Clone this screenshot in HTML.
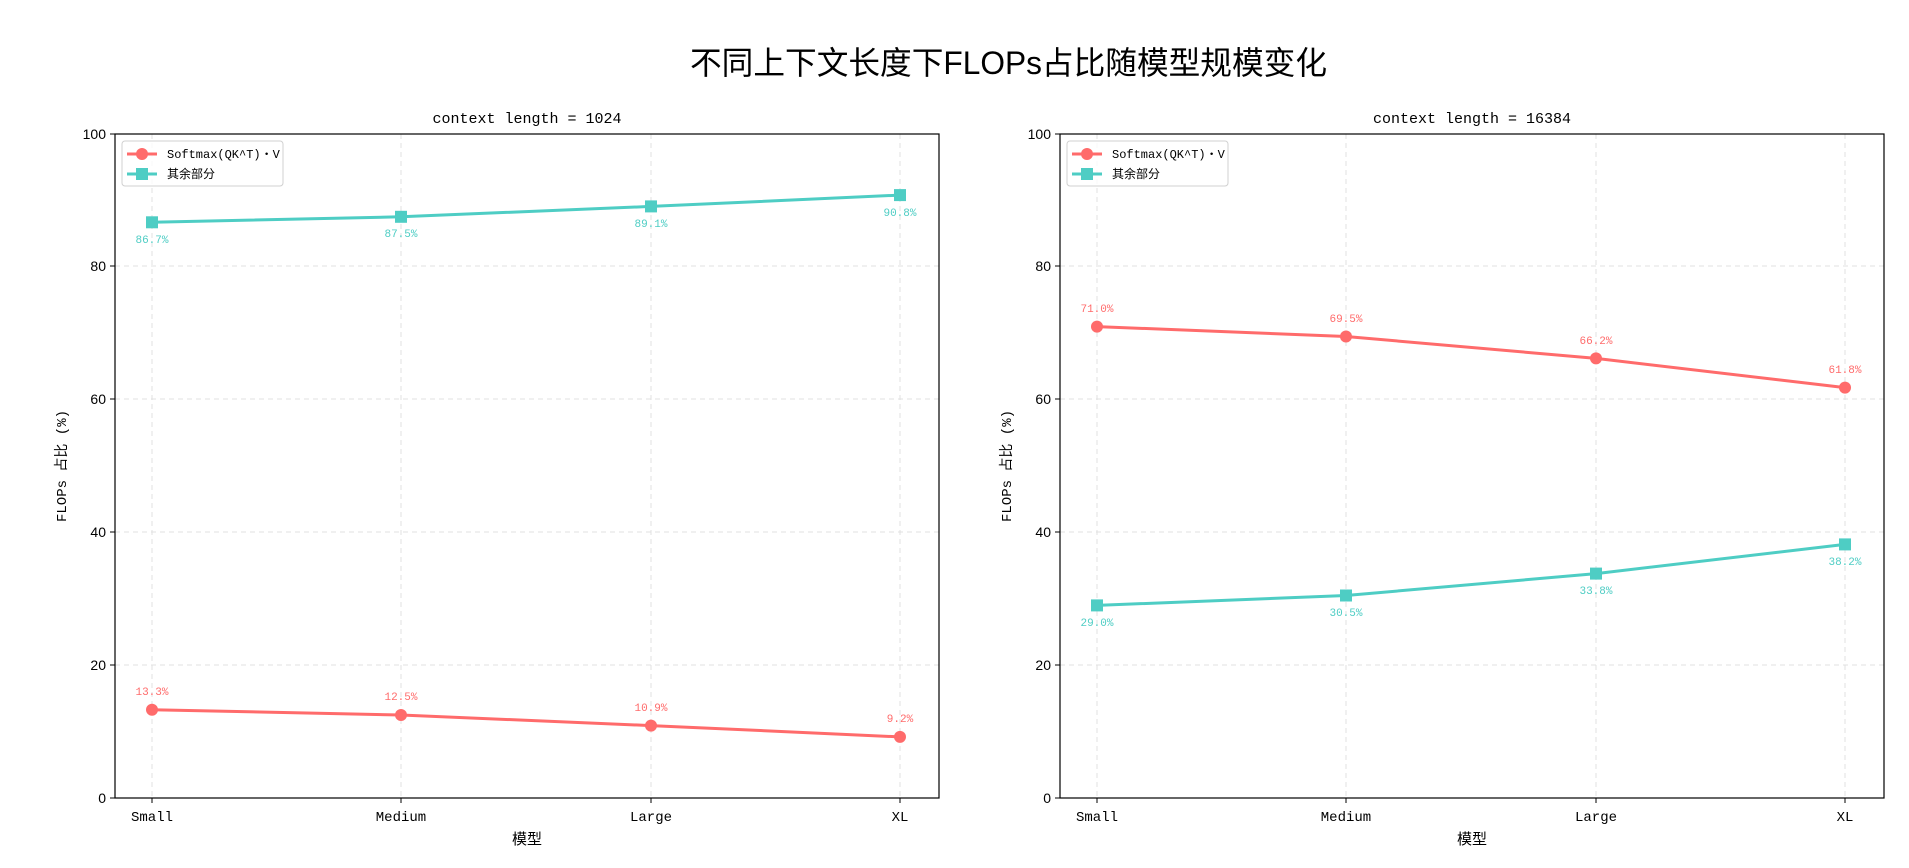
<!DOCTYPE html>
<html><head><meta charset="utf-8"><style>
html,body{margin:0;padding:0;background:#fff;}
svg{display:block;}
text{font-family:"Liberation Sans","Noto Sans CJK SC",sans-serif;}
.m{font-family:"Liberation Mono","Noto Sans CJK SC",monospace;}
</style></head><body>
<svg width="1909" height="868" viewBox="0 0 1909 868" xmlns="http://www.w3.org/2000/svg">
<text x="690" y="74" font-size="32" textLength="637" lengthAdjust="spacingAndGlyphs" fill="#000">不同上下文长度下FLOPs占比随模型规模变化</text>

<!-- LEFT AXES -->
<g>
<g stroke="#e0e0e0" stroke-dasharray="5,4" stroke-width="1">
<line x1="152" y1="134" x2="152" y2="798"/><line x1="401" y1="134" x2="401" y2="798"/>
<line x1="651" y1="134" x2="651" y2="798"/><line x1="900" y1="134" x2="900" y2="798"/>
<line x1="115" y1="665" x2="939" y2="665"/><line x1="115" y1="532" x2="939" y2="532"/>
<line x1="115" y1="399" x2="939" y2="399"/><line x1="115" y1="266" x2="939" y2="266"/>
</g>
<rect x="115" y="134" width="824" height="664" fill="none" stroke="#000" stroke-width="1.2"/>
<g stroke="#000"><line x1="110" y1="798" x2="115" y2="798"/><line x1="110" y1="665" x2="115" y2="665"/><line x1="110" y1="532" x2="115" y2="532"/><line x1="110" y1="399" x2="115" y2="399"/><line x1="110" y1="266" x2="115" y2="266"/><line x1="110" y1="134" x2="115" y2="134"/>
<line x1="152" y1="798" x2="152" y2="803"/><line x1="401" y1="798" x2="401" y2="803"/><line x1="651" y1="798" x2="651" y2="803"/><line x1="900" y1="798" x2="900" y2="803"/></g>
<g font-size="14" text-anchor="end" fill="#000"><text x="106" y="803">0</text><text x="106" y="670">20</text><text x="106" y="537">40</text><text x="106" y="404">60</text><text x="106" y="271">80</text><text x="106" y="139">100</text></g>
<g font-size="14" text-anchor="middle" fill="#000"><text class="m" x="152" y="821">Small</text><text class="m" x="401" y="821">Medium</text><text class="m" x="651" y="821">Large</text><text class="m" x="900" y="821">XL</text></g>
<text x="527" y="844" font-size="15" text-anchor="middle">模型</text>
<text class="m" x="0" y="0" font-size="14" text-anchor="middle" transform="translate(66,466) rotate(-90)">FLOPs 占比 (%)</text>
<text class="m" x="527" y="123" font-size="15" text-anchor="middle">context length = 1024</text>
<polyline points="152,222.3 401,216.8 651,206.4 900,195.1" fill="none" stroke="#4ecdc4" stroke-width="3"/>
<g fill="#4ecdc4"><rect x="146" y="216.3" width="12" height="12"/><rect x="395" y="210.8" width="12" height="12"/><rect x="645" y="200.4" width="12" height="12"/><rect x="894" y="189.1" width="12" height="12"/></g>
<polyline points="152,709.7 401,715 651,725.6 900,736.9" fill="none" stroke="#ff6b6b" stroke-width="3"/>
<g fill="#ff6b6b"><circle cx="152" cy="709.7" r="6"/><circle cx="401" cy="715" r="6"/><circle cx="651" cy="725.6" r="6"/><circle cx="900" cy="736.9" r="6"/></g>
<g font-size="11" text-anchor="middle" fill="#4ecdc4"><text class="m" x="152" y="243">86.7%</text><text class="m" x="401" y="237">87.5%</text><text class="m" x="651" y="227">89.1%</text><text class="m" x="900" y="216">90.8%</text></g>
<g font-size="11" text-anchor="middle" fill="#ff6b6b"><text class="m" x="152" y="695">13.3%</text><text class="m" x="401" y="700">12.5%</text><text class="m" x="651" y="711">10.9%</text><text class="m" x="900" y="722">9.2%</text></g>
<rect x="122" y="141" width="161" height="45" rx="3" fill="#fff" fill-opacity="0.8" stroke="#d0d0d0"/>
<line x1="127" y1="154" x2="157" y2="154" stroke="#ff6b6b" stroke-width="3"/><circle cx="142" cy="154" r="6" fill="#ff6b6b"/>
<line x1="127" y1="174" x2="157" y2="174" stroke="#4ecdc4" stroke-width="3"/><rect x="136" y="168" width="12" height="12" fill="#4ecdc4"/>
<text class="m" x="167" y="158" font-size="12">Softmax(QK^T)・V</text>
<text class="m" x="167" y="178" font-size="12">其余部分</text>
</g>

<!-- RIGHT AXES -->
<g transform="translate(945,0)">
<g stroke="#e0e0e0" stroke-dasharray="5,4" stroke-width="1">
<line x1="152" y1="134" x2="152" y2="798"/><line x1="401" y1="134" x2="401" y2="798"/>
<line x1="651" y1="134" x2="651" y2="798"/><line x1="900" y1="134" x2="900" y2="798"/>
<line x1="115" y1="665" x2="939" y2="665"/><line x1="115" y1="532" x2="939" y2="532"/>
<line x1="115" y1="399" x2="939" y2="399"/><line x1="115" y1="266" x2="939" y2="266"/>
</g>
<rect x="115" y="134" width="824" height="664" fill="none" stroke="#000" stroke-width="1.2"/>
<g stroke="#000"><line x1="110" y1="798" x2="115" y2="798"/><line x1="110" y1="665" x2="115" y2="665"/><line x1="110" y1="532" x2="115" y2="532"/><line x1="110" y1="399" x2="115" y2="399"/><line x1="110" y1="266" x2="115" y2="266"/><line x1="110" y1="134" x2="115" y2="134"/>
<line x1="152" y1="798" x2="152" y2="803"/><line x1="401" y1="798" x2="401" y2="803"/><line x1="651" y1="798" x2="651" y2="803"/><line x1="900" y1="798" x2="900" y2="803"/></g>
<g font-size="14" text-anchor="end" fill="#000"><text x="106" y="803">0</text><text x="106" y="670">20</text><text x="106" y="537">40</text><text x="106" y="404">60</text><text x="106" y="271">80</text><text x="106" y="139">100</text></g>
<g font-size="14" text-anchor="middle" fill="#000"><text class="m" x="152" y="821">Small</text><text class="m" x="401" y="821">Medium</text><text class="m" x="651" y="821">Large</text><text class="m" x="900" y="821">XL</text></g>
<text x="527" y="844" font-size="15" text-anchor="middle">模型</text>
<text class="m" x="0" y="0" font-size="14" text-anchor="middle" transform="translate(66,466) rotate(-90)">FLOPs 占比 (%)</text>
<text class="m" x="527" y="123" font-size="15" text-anchor="middle">context length = 16384</text>
<polyline points="152,326.6 401,336.5 651,358.4 900,387.6" fill="none" stroke="#ff6b6b" stroke-width="3"/>
<g fill="#ff6b6b"><circle cx="152" cy="326.6" r="6"/><circle cx="401" cy="336.5" r="6"/><circle cx="651" cy="358.4" r="6"/><circle cx="900" cy="387.6" r="6"/></g>
<polyline points="152,605.4 401,595.5 651,573.6 900,544.4" fill="none" stroke="#4ecdc4" stroke-width="3"/>
<g fill="#4ecdc4"><rect x="146" y="599.4" width="12" height="12"/><rect x="395" y="589.5" width="12" height="12"/><rect x="645" y="567.6" width="12" height="12"/><rect x="894" y="538.4" width="12" height="12"/></g>
<g font-size="11" text-anchor="middle" fill="#ff6b6b"><text class="m" x="152" y="312">71.0%</text><text class="m" x="401" y="322">69.5%</text><text class="m" x="651" y="344">66.2%</text><text class="m" x="900" y="373">61.8%</text></g>
<g font-size="11" text-anchor="middle" fill="#4ecdc4"><text class="m" x="152" y="626">29.0%</text><text class="m" x="401" y="616">30.5%</text><text class="m" x="651" y="594">33.8%</text><text class="m" x="900" y="565">38.2%</text></g>
<rect x="122" y="141" width="161" height="45" rx="3" fill="#fff" fill-opacity="0.8" stroke="#d0d0d0"/>
<line x1="127" y1="154" x2="157" y2="154" stroke="#ff6b6b" stroke-width="3"/><circle cx="142" cy="154" r="6" fill="#ff6b6b"/>
<line x1="127" y1="174" x2="157" y2="174" stroke="#4ecdc4" stroke-width="3"/><rect x="136" y="168" width="12" height="12" fill="#4ecdc4"/>
<text class="m" x="167" y="158" font-size="12">Softmax(QK^T)・V</text>
<text class="m" x="167" y="178" font-size="12">其余部分</text>
</g>
</svg>
</body></html>
